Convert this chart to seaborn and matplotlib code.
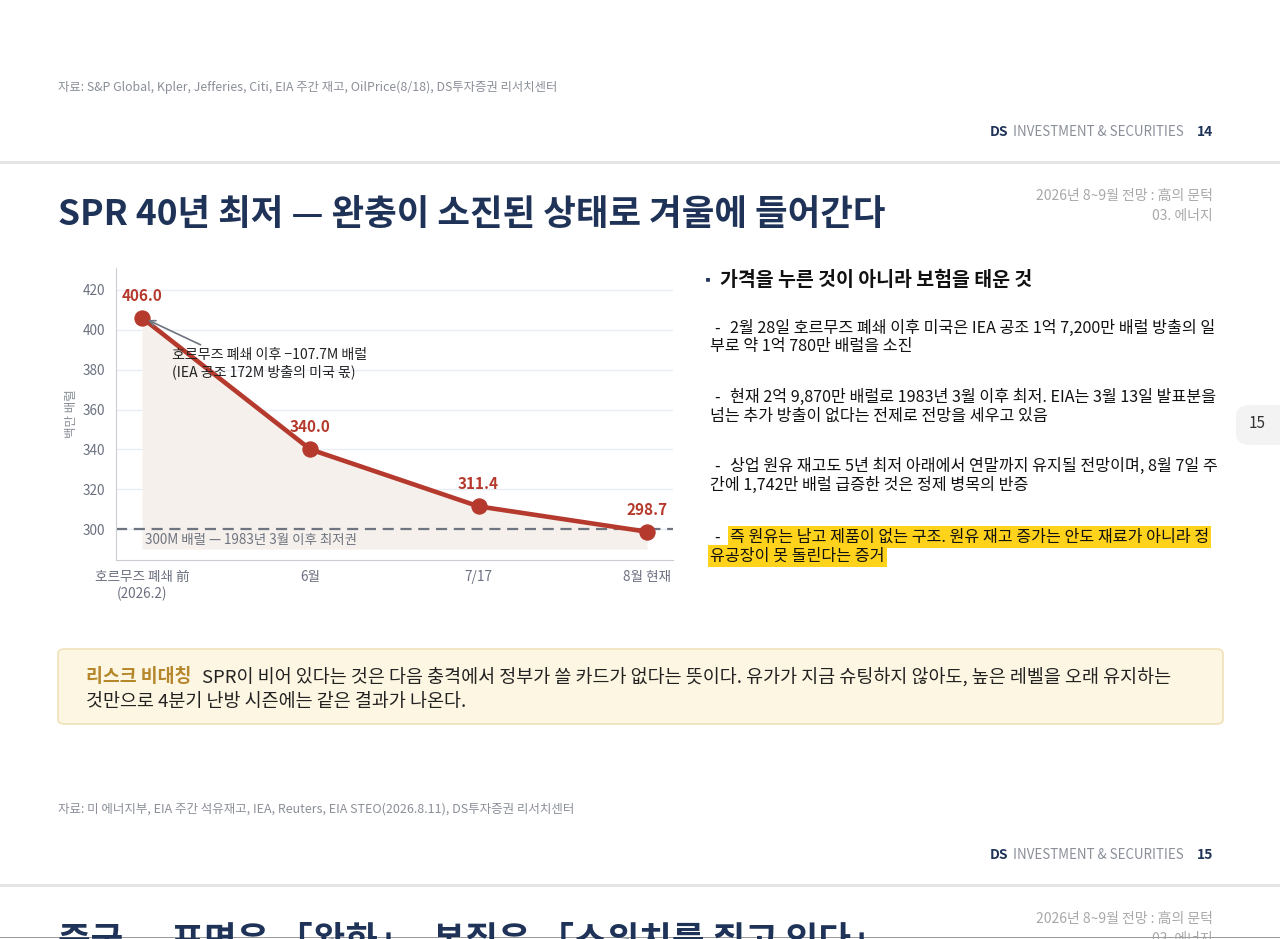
import numpy as np
import matplotlib
matplotlib.use("Agg")
import matplotlib.pyplot as plt
from matplotlib.patches import FancyBboxPatch, Rectangle
import seaborn as sns

# 데이터
periods = ["호르무즈 폐쇄 前\n(2026.2)", "6월", "7/17", "8월 현재"]
spr_stock = [406.0, 340.0, 311.4, 298.7]
y_ticks = [300, 320, 340, 360, 380, 400, 420]
floor_level = 300
floor_note = "300M 배럴 — 1983년 3월 이후 최저권"
arrow_note = "호르무즈 폐쇄 이후 −107.7M 배럴\n(IEA 공조 172M 방출의 미국 몫)"

bullet_title = "가격을 누른 것이 아니라 보험을 태운 것"
paragraphs = [
    ("2월 28일 호르무즈 폐쇄 이후 미국은 IEA 공조 1억 7,200만 배럴 방출의 일", "부로 약 1억 780만 배럴을 소진"),
    ("현재 2억 9,870만 배럴로 1983년 3월 이후 최저. EIA는 3월 13일 발표분을", "넘는 추가 방출이 없다는 전제로 전망을 세우고 있음"),
    ("상업 원유 재고도 5년 최저 아래에서 연말까지 유지될 전망이며, 8월 7일 주", "간에 1,742만 배럴 급증한 것은 정제 병목의 반증"),
    ("즉 원유는 남고 제품이 없는 구조. 원유 재고 증가는 안도 재료가 아니라 정", "유공장이 못 돌린다는 증거"),
]

sns.set_style("white")
plt.rcParams['font.family'] = ['Noto Sans CJK KR', 'DejaVu Sans']
plt.rcParams['axes.unicode_minus'] = False

W, H = 1280, 939
fig = plt.figure(figsize=(12.8, 9.39), dpi=100)
fig.patch.set_facecolor("white")


def P(x, y):
    return x / W, 1 - y / H


NAVY = "#1f3358"
GRAY = "#8a8f98"
RED = "#b5392c"

# 상단 페이지 꼬리 (이전 페이지)
fig.text(*P(58, 87), "자료: S&P Global, Kpler, Jefferies, Citi, EIA 주간 재고, OilPrice(8/18), DS투자증권 리서치센터",
         fontsize=8.9, color=GRAY, style="italic", va="center")


def footer(y, page):
    fig.text(*P(1213, y), page, fontsize=10, color=NAVY, fontweight="bold", ha="right", va="center")
    fig.text(*P(1184, y), "INVESTMENT & SECURITIES", fontsize=9.6, color=GRAY, ha="right", va="center")
    fig.text(*P(1008, y), "DS", fontsize=10, color=NAVY, fontweight="bold", ha="right", va="center")


footer(132, "14")
fig.add_artist(Rectangle(P(0, 164), 1, 3 / H, transform=fig.transFigure, color="#e4e4e4", lw=0))

# 제목
fig.text(*P(58, 214), "SPR 40년 최저 — 완충이 소진된 상태로 겨울에 들어간다",
         fontsize=25.5, color=NAVY, fontweight="bold", va="center")
fig.text(*P(1213, 196), "2026년 8~9월 전망 : 高의 문턱", fontsize=10, color="#a8a8a8", ha="right", va="center")
fig.text(*P(1213, 216), "03. 에너지", fontsize=10, color="#a8a8a8", ha="right", va="center")

# 차트
ax = fig.add_axes([116 / W, 1 - 560 / H, (673 - 116) / W, (560 - 268) / H])
xs = np.arange(len(spr_stock))
ax.fill_between(xs, 290, spr_stock, color="#f5f0ec", lw=0, zorder=1)
for t in y_ticks:
    ax.axhline(t, color="#e9edf5", lw=1, zorder=0)
ax.axhline(floor_level, color="#6e7480", lw=1.6, ls=(0, (5, 3)), zorder=2)
sns.lineplot(x=xs, y=spr_stock, ax=ax, color=RED, linewidth=3.3, marker="o",
             markersize=11, markeredgecolor=RED, zorder=3)
for x, v in zip(xs, spr_stock):
    ax.annotate(f"{v:.1f}", (x, v), xytext=(0, 10), textcoords="offset points",
                ha="center", va="bottom", fontsize=11, fontweight="bold", color=RED)
ax.text(0.02, 294.5, floor_note, fontsize=9.7, color="#6e7480", va="center", ha="left")
ax.annotate(arrow_note, xy=(0.02, 405.5), xytext=(0.18, 383), fontsize=10.1, color="#222222",
            ha="left", va="center", linespacing=1.2,
            arrowprops=dict(arrowstyle="->", color="#6e7480", lw=1.2, shrinkA=0, shrinkB=2,
                            relpos=(0.18, 1.0)))
ax.set_xlim(-0.155, 3.155)
ax.set_ylim(284.5, 431)
ax.set_yticks(y_ticks)
ax.set_xticks(xs)
ax.set_xticklabels(periods)
ax.tick_params(axis="both", labelsize=9.8, labelcolor="#6b7080", color="#c9ccd3", length=4)
ax.set_ylabel("백만 배럴", fontsize=9, color="#8a8f98", labelpad=4)
for s in ["top", "right"]:
    ax.spines[s].set_visible(False)
for s in ["left", "bottom"]:
    ax.spines[s].set_color("#c9ccd3")
ax.set_facecolor("none")

# 오른쪽 본문
fig.text(*P(701, 280), "▪", fontsize=10, color=NAVY, va="center")
fig.text(*P(720, 280), bullet_title, fontsize=14, fontweight="bold", color="#111111", va="center")
ys = [328, 397, 466, 537]
for i, (y, (l1, l2)) in enumerate(zip(ys, paragraphs)):
    fig.text(*P(714, y), "-", fontsize=11.5, color="#111111", va="center")
    hl = dict(facecolor="#ffd21c", edgecolor="none", pad=1.5) if i == 3 else None
    fig.text(*P(730, y), l1, fontsize=11.6, color="#111111", va="center", bbox=hl)
    fig.text(*P(710, y + 19), l2, fontsize=11.6, color="#111111", va="center", bbox=hl)

# 페이지 탭
fig.add_artist(FancyBboxPatch(P(1236, 445), 60 / W, 40 / H, boxstyle="round,pad=0,rounding_size=0.012",
                              transform=fig.transFigure, facecolor="#f3f3f3", edgecolor="none"))
fig.text(*P(1257, 424), "15", fontsize=11, color="#333333", ha="center", va="center")

# 콜아웃 박스
fig.add_artist(FancyBboxPatch(P(58, 724), (1223 - 58) / W, (724 - 649) / H,
                              boxstyle="round,pad=0,rounding_size=0.005", transform=fig.transFigure,
                              facecolor="#fdf6e2", edgecolor="#efe2b8", lw=1.2))
fig.text(*P(86, 677), "리스크 비대칭", fontsize=13.2, fontweight="bold", color="#b5862a", va="center")
fig.text(*P(202, 677), "SPR이 비어 있다는 것은 다음 충격에서 정부가 쓸 카드가 없다는 뜻이다. 유가가 지금 슈팅하지 않아도, 높은 레벨을 오래 유지하는",
         fontsize=13.3, color="#222222", va="center")
fig.text(*P(86, 702), "것만으로 4분기 난방 시즌에는 같은 결과가 나온다.", fontsize=13.3, color="#222222", va="center")

# 하단
fig.text(*P(58, 809), "자료: 미 에너지부, EIA 주간 석유재고, IEA, Reuters, EIA STEO(2026.8.11), DS투자증권 리서치센터",
         fontsize=9, color=GRAY, style="italic", va="center")
footer(855, "15")
fig.add_artist(Rectangle(P(0, 887), 1, 3 / H, transform=fig.transFigure, color="#e4e4e4", lw=0))
fig.text(*P(58, 921), "중국 — 표면은 「완화」, 본질은 「스위치를 쥐고 있다」", fontsize=25.5, color=NAVY,
         fontweight="bold", va="top")
fig.text(*P(1213, 919), "2026년 8~9월 전망 : 高의 문턱", fontsize=10, color="#a8a8a8", ha="right", va="center")
fig.text(*P(1213, 939), "03. 에너지", fontsize=10, color="#a8a8a8", ha="right", va="center")
fig.add_artist(Rectangle(P(0, 938), 1, 1.2 / H, transform=fig.transFigure, color="#9a9a9a", lw=0))

fig.savefig("out.png", dpi=100, facecolor="white")
